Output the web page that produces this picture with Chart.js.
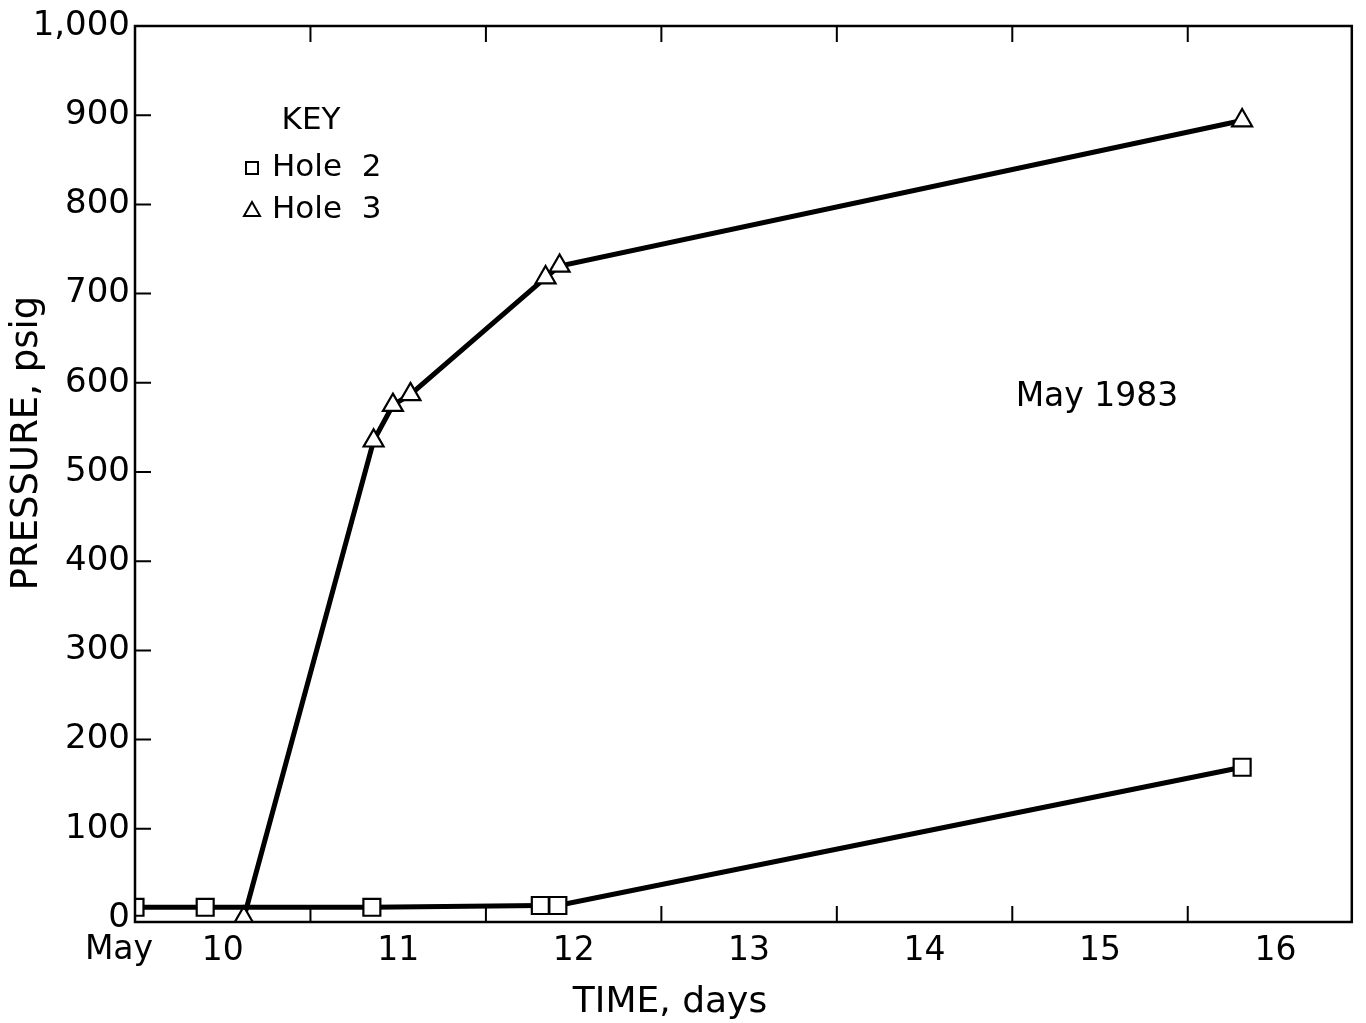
<!DOCTYPE html>
<html lang="en">
<head>
  <meta charset="UTF-8">
  <title>Pressure vs time</title>
  <script src="https://cdn.jsdelivr.net/npm/chart.js"></script>
  <style>
    body { margin: 0; background: #fff; }
    #wrap { width: 1366px; height: 1023px; }
  </style>
</head>
<body>
  <div id="wrap"><canvas id="grafico"></canvas></div>
  <script>
    // days in May (10.0 = May 10, 00:00)
    const hole2Days = [10.0, 10.40, 11.35, 12.31, 12.41, 16.31];
    const hole2Psig = [12, 12, 12, 14, 14, 169];
    const hole3Days = [10.62, 11.36, 11.47, 11.57, 12.34, 12.42, 16.31];
    const hole3Psig = [0, 535, 575, 587, 718, 731, 894];

    const yTicks = [0, 100, 200, 300, 400, 500, 600, 700, 800, 900, 1000];
    const yLabels = ['0', '100', '200', '300', '400', '500', '600', '700', '800', '900', '1,000'];
    const dayMarks = [11, 12, 13, 14, 15, 16];
    const dayLabelPos = [10.5, 11.5, 12.5, 13.5, 14.5, 15.5, 16.5];
    const dayLabels = ['10', '11', '12', '13', '14', '15', '16'];

    const fuente = '"DejaVu Sans", sans-serif';

    const puntos = (xs, ys) => xs.map((x, i) => ({ x: x, y: ys[i] }));

    // marco, marcas interiores y textos
    const extras = {
      id: 'extras',
      afterDraw(chart) {
        const ctx = chart.ctx;
        const a = chart.chartArea;
        const sx = chart.scales.x;
        const sy = chart.scales.y;
        ctx.save();
        ctx.strokeStyle = '#000';
        ctx.lineWidth = 2.5;
        ctx.strokeRect(a.left, a.top, a.right - a.left, a.bottom - a.top);

        ctx.lineWidth = 2;
        ctx.beginPath();
        dayMarks.forEach(d => {
          const px = sx.getPixelForValue(d);
          ctx.moveTo(px, a.bottom); ctx.lineTo(px, a.bottom - 16);
          ctx.moveTo(px, a.top); ctx.lineTo(px, a.top + 16);
        });
        yTicks.slice(1, -1).forEach(v => {
          const py = sy.getPixelForValue(v);
          ctx.moveTo(a.left, py); ctx.lineTo(a.left + 16, py);
        });
        ctx.stroke();

        ctx.fillStyle = '#000';
        ctx.textAlign = 'center';
        ctx.textBaseline = 'middle';
        ctx.font = '33px ' + fuente;
        ctx.fillText('May', sx.getPixelForValue(10) - 16, 950);
        ctx.font = '36px ' + fuente;
        ctx.fillText('TIME, days', 670, 1003);
        ctx.font = '33px ' + fuente;
        ctx.fillText('May 1983', 1097, 397);

        ctx.save();
        ctx.translate(27, 443);
        ctx.rotate(-Math.PI / 2);
        ctx.font = '37px ' + fuente;
        ctx.fillText('PRESSURE, psig', 0, 0);
        ctx.restore();

        // key
        ctx.font = '31px ' + fuente;
        ctx.fillText('KEY', 311, 121);
        ctx.textAlign = 'left';
        ctx.fillText('Hole  2', 272, 168);
        ctx.fillText('Hole  3', 272, 210);
        ctx.lineWidth = 2;
        ctx.strokeRect(246, 162, 12, 12);
        ctx.beginPath();
        ctx.moveTo(252, 202); ctx.lineTo(260, 216); ctx.lineTo(244, 216); ctx.closePath();
        ctx.stroke();
        ctx.restore();
      }
    };

    const grafico = new Chart(document.getElementById('grafico'), {
      type: 'line',
      data: {
        datasets: [
          {
            label: 'Hole 2',
            data: puntos(hole2Days, hole2Psig),
            borderColor: '#000',
            borderWidth: 5,
            pointStyle: 'rect',
            pointRadius: 12,
            pointBorderWidth: 2.2,
            pointBackgroundColor: '#fff',
            pointBorderColor: '#000'
          },
          {
            label: 'Hole 3',
            data: puntos(hole3Days, hole3Psig),
            borderColor: '#000',
            borderWidth: 5,
            pointStyle: 'triangle',
            pointRadius: 11.5,
            pointBorderWidth: 2.2,
            pointBackgroundColor: '#fff',
            pointBorderColor: '#000'
          }
        ]
      },
      options: {
        responsive: true,
        maintainAspectRatio: false,
        animation: false,
        layout: { padding: { top: 26, right: 11, left: 0, bottom: 0 } },
        plugins: { legend: { display: false }, tooltip: { enabled: false } },
        scales: {
          x: {
            type: 'linear',
            min: 10,
            max: 16.935,
            grid: { display: false, drawTicks: false },
            border: { display: false },
            afterFit: s => { s.height = 101; },
            afterBuildTicks: s => { s.ticks = dayLabelPos.map(v => ({ value: v })); },
            ticks: {
              padding: 10,
              color: '#000',
              font: { family: fuente, size: 33 },
              maxRotation: 0,
              autoSkip: false,
              callback: (v, i) => dayLabels[i]
            }
          },
          y: {
            min: -4.5,
            max: 1000,
            grid: { display: false, drawTicks: false },
            border: { display: false },
            afterFit: s => { s.width = 135; },
            afterBuildTicks: s => { s.ticks = yTicks.map(v => ({ value: v })); },
            ticks: {
              padding: 5,
              color: '#000',
              font: { family: fuente, size: 34 },
              autoSkip: false,
              callback: (v, i) => yLabels[i]
            }
          }
        }
      },
      plugins: [extras]
    });
  </script>
</body>
</html>
